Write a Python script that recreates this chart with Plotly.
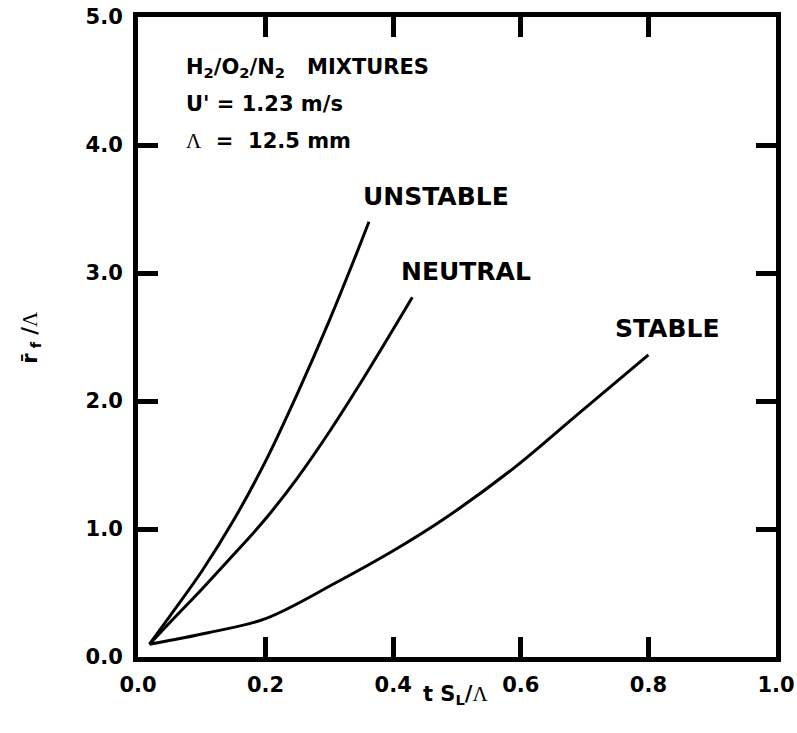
import plotly.graph_objects as go

# ---- data ----
unstable_x = [0.018, 0.05, 0.10, 0.15, 0.20, 0.25, 0.30, 0.34, 0.362]
unstable_y = [0.10, 0.32, 0.67, 1.07, 1.53, 2.06, 2.63, 3.12, 3.40]

neutral_x = [0.018, 0.05, 0.10, 0.15, 0.20, 0.25, 0.30, 0.35, 0.40, 0.43]
neutral_y = [0.10, 0.27, 0.53, 0.80, 1.08, 1.40, 1.76, 2.15, 2.56, 2.81]

stable_x = [0.018, 0.11, 0.20, 0.31, 0.40, 0.48, 0.59, 0.69, 0.80]
stable_y = [0.10, 0.19, 0.30, 0.58, 0.83, 1.08, 1.48, 1.90, 2.36]

x_ticks = [0.0, 0.2, 0.4, 0.6, 0.8, 1.0]
y_ticks = [0.0, 1.0, 2.0, 3.0, 4.0, 5.0]

curve_labels = ["UNSTABLE", "NEUTRAL", "STABLE"]
label_pos = [(0.349, 3.60), (0.409, 3.01), (0.744, 2.57)]

LAM = "<span style=\"font-family:Liberation Serif;font-weight:normal\">\u039b</span>"
info_lines = [
    "H<sub>2</sub>/O<sub>2</sub>/N<sub>2</sub>   MIXTURES",
    "U' = 1.23 m/s",
    LAM + "  =  12.5 mm",
]
info_y = [4.60, 4.32, 4.03]

FONT = "DejaVu Sans"

fig = go.Figure()
for xs, ys in [(unstable_x, unstable_y), (neutral_x, neutral_y), (stable_x, stable_y)]:
    fig.add_trace(go.Scatter(x=xs, y=ys, mode="lines",
                             line=dict(color="black", width=3, shape="spline", smoothing=1.0),
                             showlegend=False, hoverinfo="skip"))

axis_common = dict(
    showline=True, linecolor="black", linewidth=5, mirror="ticks",
    ticks="inside", ticklen=20, tickwidth=4.5, tickcolor="black",
    showgrid=False, zeroline=False, automargin=False,
    ticklabeloverflow="allow",
    tickfont=dict(family=FONT, size=21, color="black", weight="bold"),
    tickformat=".1f",
)
fig.update_xaxes(range=[0, 1], tickvals=x_ticks, ticklabelstandoff=5, **axis_common)
fig.update_yaxes(range=[0, 5], tickvals=y_ticks, ticklabelstandoff=6, **axis_common)

annotations = []
for txt, (x, y) in zip(curve_labels, label_pos):
    annotations.append(dict(x=x, y=y, text=txt, showarrow=False, xanchor="left", yanchor="middle",
                            font=dict(family=FONT, size=25, color="black", weight="bold")))
for txt, y in zip(info_lines, info_y):
    annotations.append(dict(x=0.072, y=y, text=txt, showarrow=False, xanchor="left", yanchor="middle",
                            font=dict(family=FONT, size=21, color="black", weight="bold")))
annotations.append(dict(xref="paper", yref="paper", x=0.498, y=-0.06,
                        text="t S<sub>L</sub>/" + LAM, showarrow=False,
                        xanchor="center", yanchor="middle",
                        font=dict(family=FONT, size=21, color="black", weight="bold")))
annotations.append(dict(xref="paper", yref="paper", x=-0.168, y=0.50,
                        text="r\u0304<sub> f</sub> /" + LAM, showarrow=False,
                        textangle=-90, xanchor="center", yanchor="middle",
                        font=dict(family=FONT, size=21, color="black", weight="bold")))

fig.update_layout(
    width=797, height=733,
    margin=dict(l=138, r=21, t=17, b=76, autoexpand=False),
    paper_bgcolor="white", plot_bgcolor="white",
    annotations=annotations,
)

# remove the default page margin so the figure sits at the window's top-left corner
fig.write_html("out.html", config={"displayModeBar": False},
               post_script="document.body.style.margin='0';")
